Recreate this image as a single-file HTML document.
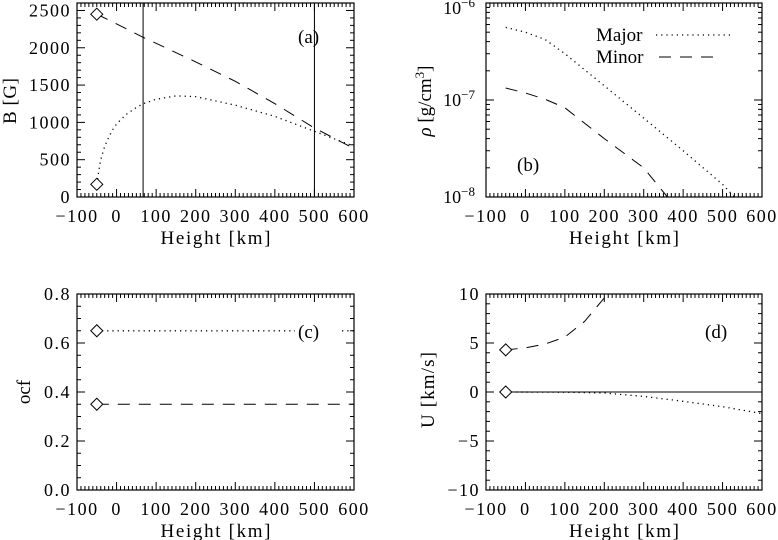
<!DOCTYPE html>
<html><head><meta charset="utf-8"><style>
html,body{margin:0;padding:0;background:#fff}
svg{display:block}
text{font-family:"Liberation Serif",serif;fill:#000}
</style></head><body>
<svg id="fig" width="778" height="540" viewBox="0 0 778 540" xmlns="http://www.w3.org/2000/svg"></svg>
<script>
// ---- data ----
const aHeights=[-50,0,67,100,200,300,400,500,600];
const aMinor=[2450,2320,2140,2060,1810,1550,1250,925,650];
const aMajorH=[-50,-45,-40,-30,-20,-10,0,25,50,67,100,150,200,300,400,500,600];
const aMajor=[170,350,500,680,800,900,980,1110,1200,1250,1310,1355,1345,1230,1080,880,680];
const aVlines=[67,500];
const aDiamonds=[2450,170];
const bMajorH=[-50,0,50,100,200,300,400,500,530];
const bMajor=[5.6e-7,5.0e-7,4.2e-7,3.0e-7,1.4e-7,6.5e-8,3.0e-8,1.35e-8,1.0e-8];
const bMinorH=[-50,0,50,100,200,300,360];
const bMinor=[1.33e-7,1.18e-7,1.02e-7,8.3e-8,4.0e-8,2.0e-8,1.0e-8];
const cMajor=0.65, cMinor=0.35;
const dMinorH=[-50,0,50,100,150,200,210];
const dMinor=[4.3,4.5,4.9,5.6,7.2,9.6,10.5];
const dMajorH=[-50,100,200,300,400,500,600];
const dMajor=[0,-0.02,-0.1,-0.45,-0.95,-1.5,-2.2];
const xTicks=[-100,0,100,200,300,400,500,600];
const aTicks=[0,500,1000,1500,2000,2500];
const cTicks=[0,0.2,0.4,0.6,0.8];
const dTicks=[-10,-5,0,5,10];
const bTicks=[-8,-7,-6];

const NS="http://www.w3.org/2000/svg";
const svg=document.getElementById('fig');
function el(tag,attrs,parent){const e=document.createElementNS(NS,tag);for(const k in attrs)e.setAttribute(k,attrs[k]);(parent||svg).appendChild(e);return e;}

function makePanel(name,x0,x1,y0,y1,ymin,ymax,log){
  const g=el('g',{});
  
  
  const X=v=>x0+(v+100)/700*(x1-x0);
  const Y=v=>{const t=log?(Math.log10(v)-ymin)/(ymax-ymin):(v-ymin)/(ymax-ymin);return y1-t*(y1-y0);};
  const f=el('rect',{x:x0,y:y0,width:x1-x0,height:y1-y0,fill:'none',stroke:'#000','stroke-width':1.2},g);
  
  
  for(let v=-100;v<=600;v+=10){const maj=(v%100===0);const L=maj?8:4;
    el('line',{x1:X(v),x2:X(v),y1:y1,y2:y1-L,stroke:'#000','stroke-width':1},g);
    el('line',{x1:X(v),x2:X(v),y1:y0,y2:y0+L,stroke:'#000','stroke-width':1},g);}
  xTicks.forEach(v=>{const t=el('text',{x:X(v),y:y1+25,'font-size':18,'text-anchor':'middle','letter-spacing':1.5},g);t.textContent=(v<0?'\u2212':'')+Math.abs(v);
    
    });
  const xt=el('text',{x:(x0+x1)/2,y:y1+47,'font-size':19,'text-anchor':'middle',textLength:110,lengthAdjust:'spacing'},g);
  xt.textContent='Height [km]';
  
  
  return {g,X,Y};
}
function yTicksLin(p,x0,x1,ticks,minorStep,ymin,ymax,fmt){
  for(let v=ymin;v<=ymax+1e-9;v+=minorStep){const maj=ticks.some(t=>Math.abs(t-v)<1e-6);const L=maj?8:4;
    el('line',{x1:x0,x2:x0+L,y1:p.Y(v),y2:p.Y(v),stroke:'#000'},p.g);
    el('line',{x1:x1,x2:x1-L,y1:p.Y(v),y2:p.Y(v),stroke:'#000'},p.g);}
  ticks.forEach(v=>{const t=el('text',{x:x0-6,y:p.Y(v)+6,'font-size':18,'text-anchor':'end','letter-spacing':1.5},p.g);t.textContent=fmt(v);
    
    });
}
function line(p,xs,ys,dash,name,w){
  const d=xs.map((x,i)=>(i?'L':'M')+p.X(x).toFixed(1)+','+p.Y(ys[i]).toFixed(1)).join('');
  const e=el('path',{d:d,fill:'none',stroke:'#000','stroke-width':w||1,'stroke-dasharray':dash||'none'},p.g);
  
  
  return e;
}
function diamond(p,x,y,name){
  const cx=p.X(x),cy=p.Y(y);
  const e=el('path',{d:`M${cx-6},${cy}L${cx},${cy-6}L${cx+6},${cy}L${cx},${cy+6}Z`,fill:'#fff',stroke:'#000','stroke-width':1},p.g);
  
  
}
function txt(p,x,y,s,size,name,extra){const t=el('text',Object.assign({x:x,y:y,'font-size':size},extra||{}),p.g);t.textContent=s;
  
  return t;}
function clip(id,x0,y0,x1,y1){const c=el('clipPath',{id:id});el('rect',{x:x0,y:y0,width:x1-x0,height:y1-y0},c);}

// ---- panel a ----
const pa=makePanel('panel-a-magnetic-field',77,354,3,197,0,2600,false);
yTicksLin(pa,77,354,aTicks,100,0,2600,v=>String(v));
aVlines.forEach(h=>{const l=el('line',{x1:pa.X(h),x2:pa.X(h),y1:3,y2:197,stroke:'#000','stroke-width':1},pa.g);
  
  });
line(pa,aHeights,aMinor,'12,9','minor-field-line');
line(pa,aMajorH,aMajor,'1.2,4','major-field-line',1.3);
diamond(pa,-50,aDiamonds[0],'minor-start-diamond');
diamond(pa,-50,aDiamonds[1],'major-start-diamond');
txt(pa,298,43,'(a)',19,'panel-label-a');
txt(pa,0,0,'B [G]',19,'y-axis-title',{transform:'translate(16,101) rotate(-90)','text-anchor':'middle',textLength:46});

// ---- panel b ----
clip('cb',486,3,762,197);
const pb=makePanel('panel-b-density',486,762,3,197,-8,-6,true);
for(let e=-8;e<-6;e++)for(let m=1;m<10;m++){const v=m*Math.pow(10,e);const L=m===1?8:4;
  el('line',{x1:486,x2:486+L,y1:pb.Y(v),y2:pb.Y(v),stroke:'#000'},pb.g);
  el('line',{x1:762,x2:762-L,y1:pb.Y(v),y2:pb.Y(v),stroke:'#000'},pb.g);}
bTicks.forEach(e=>{const yy=Math.max(pb.Y(Math.pow(10,e))+6,14);const t=el('text',{x:475,y:yy,'font-size':18,'text-anchor':'end'},pb.g);
  
  
  t.innerHTML='10<tspan dy="-7" font-size="13">\u2212'+(-e)+'</tspan>';});
line(pb,bMajorH,bMajor,'1.2,4','major-density-line',1.3).setAttribute('clip-path','url(#cb)');
line(pb,bMinorH,bMinor,'12,9','minor-density-line').setAttribute('clip-path','url(#cb)');
txt(pb,596,41,'Major',19,'legend-major-label');
const lm=el('line',{x1:656,x2:732,y1:35,y2:35,stroke:'#000','stroke-dasharray':'1.2,4','stroke-width':1.3},pb.g);


txt(pb,596,63,'Minor',19,'legend-minor-label');
const ln=el('line',{x1:659,x2:722,y1:57,y2:57,stroke:'#000','stroke-dasharray':'12,9'},pb.g);


txt(pb,517,171,'(b)',19,'panel-label-b');
const yb=txt(pb,0,0,'',19,'y-axis-title',{transform:'translate(431,101) rotate(-90)','text-anchor':'middle'});
yb.innerHTML='<tspan font-style="italic">ρ</tspan> [g/cm<tspan dy="-7" font-size="13">3</tspan><tspan dy="7">]</tspan>';

// ---- panel c ----
const pc=makePanel('panel-c-ocf',77,354,294,490,0,0.8,false);
yTicksLin(pc,77,354,cTicks,0.05,0,0.8,v=>v.toFixed(1));
line(pc,[-50,451],[cMajor,cMajor],'1.2,4','major-ocf-line',1.3);
line(pc,[570,600],[cMajor,cMajor],'1.2,4','major-ocf-line-end',1.3);
line(pc,[-50,600],[cMinor,cMinor],'12,9','minor-ocf-line');
diamond(pc,-50,cMajor,'major-ocf-diamond');
diamond(pc,-50,cMinor,'minor-ocf-diamond');
txt(pc,298,338,'(c)',19,'panel-label-c');
txt(pc,0,0,'ocf',19,'y-axis-title',{transform:'translate(30,392) rotate(-90)','text-anchor':'middle'});

// ---- panel d ----
clip('cd',486,294,762,490);
const pd=makePanel('panel-d-velocity',486,762,294,490,-10,10,false);
yTicksLin(pd,486,762,dTicks,1,-10,10,v=>(v<0?'\u2212':'')+Math.abs(v));
line(pd,[-50,600],[0,0],null,'zero-line');
line(pd,dMajorH,dMajor,'1.2,4','major-velocity-line',1.3);
line(pd,dMinorH,dMinor,'12,9','minor-velocity-line').setAttribute('clip-path','url(#cd)');
diamond(pd,-50,dMinor[0],'minor-velocity-diamond');
diamond(pd,-50,0,'major-velocity-diamond');
txt(pd,705,338,'(d)',19,'panel-label-d');
txt(pd,0,0,'U [km/s]',19,'y-axis-title',{transform:'translate(434,390) rotate(-90)','text-anchor':'middle',textLength:76});
</script>
</body></html>
